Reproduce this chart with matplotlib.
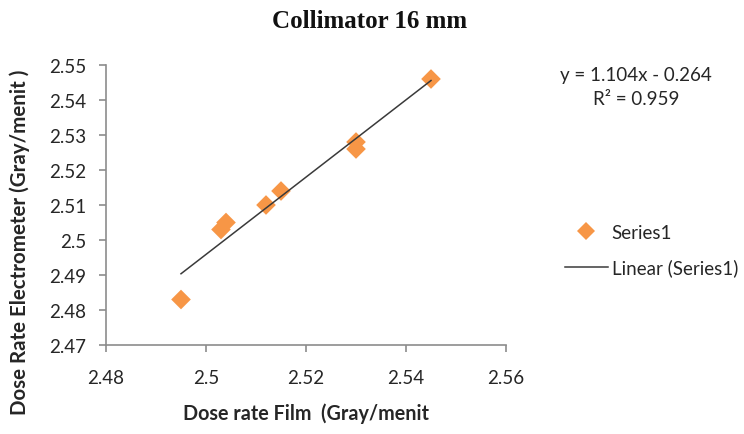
import numpy as np
import matplotlib
matplotlib.use("Agg")
import matplotlib.pyplot as plt
from matplotlib.lines import Line2D

# data
film = [2.495, 2.503, 2.504, 2.512, 2.515, 2.530, 2.530, 2.545]
electrometer = [2.483, 2.503, 2.505, 2.510, 2.514, 2.528, 2.526, 2.546]
x_ticks = [2.48, 2.50, 2.52, 2.54, 2.56]
x_tick_labels = ["2.48", "2.5", "2.52", "2.54", "2.56"]
y_ticks = [2.47, 2.48, 2.49, 2.50, 2.51, 2.52, 2.53, 2.54, 2.55]
y_tick_labels = ["2.47", "2.48", "2.49", "2.5", "2.51", "2.52", "2.53", "2.54", "2.55"]
equation = "y = 1.104x - 0.264"
r_squared = "R² = 0.959"

ORANGE = "#F79646"
TEXT = "#262626"
SPINE = "#8C8C8C"
FONT = "Lato"
FS = 13.5

fig = plt.figure(figsize=(7.44, 4.35), dpi=100)
ax = fig.add_axes([106 / 744, 1 - 346 / 435, 400 / 744, 280 / 435])

ax.scatter(film, electrometer, marker="D", s=100, color=ORANGE, edgecolors="none", zorder=2)

# linear trendline over the data range
slope, intercept = np.polyfit(film, electrometer, 1)
xs = np.array([min(film), max(film)])
ax.plot(xs, slope * xs + intercept, color="#3A3A3A", lw=1.1, zorder=3)

ax.set_xlim(2.48, 2.56)
ax.set_ylim(2.47, 2.55)
ax.set_xticks(x_ticks)
ax.set_xticklabels(x_tick_labels)
ax.set_yticks(y_ticks)
ax.set_yticklabels(y_tick_labels)

for side in ("top", "right"):
    ax.spines[side].set_visible(False)
for side in ("left", "bottom"):
    ax.spines[side].set_color(SPINE)
    ax.spines[side].set_linewidth(1.2)
ax.tick_params(axis="both", direction="out", length=5, width=1.2, color=SPINE,
               labelsize=FS, labelcolor=TEXT)
ax.tick_params(axis="x", pad=12)
ax.tick_params(axis="y", pad=9)
for lab in ax.get_xticklabels() + ax.get_yticklabels():
    lab.set_family(FONT)

ax.set_xlabel("Dose rate Film  (Gray/menit", fontsize=14.2, fontweight="bold",
              family=FONT, color=TEXT, labelpad=12)
ax.set_ylabel("Dose Rate Electrometer (Gray/menit )", fontsize=14.8, fontweight="bold",
              family=FONT, color=TEXT, labelpad=9)
ax.yaxis.set_label_coords(-0.19, 0.37)

fig.text(370 / 744, 1 - 22 / 435, "Collimator 16 mm", ha="center", va="center",
         fontsize=18, fontweight="bold", family="Liberation Serif", color="#111111")

fig.text(636 / 744, 1 - 76 / 435, equation, ha="center", va="center",
         fontsize=FS, family=FONT, color=TEXT)
fig.text(636 / 744, 1 - 100 / 435, r_squared, ha="center", va="center",
         fontsize=FS, family=FONT, color=TEXT)

handles = [
    Line2D([], [], marker="D", ls="none", color=ORANGE, markersize=9, markeredgewidth=0),
    Line2D([], [], color="#3A3A3A", lw=1.1),
]
fig.legend(handles, ["Series1", "Linear (Series1)"], loc="center left",
           bbox_to_anchor=(548 / 744, 1 - 251 / 435), frameon=False,
           prop={"family": FONT, "size": FS}, labelcolor=TEXT,
           handlelength=2.3, handletextpad=0.2, labelspacing=0.95)

fig.savefig("out.png", dpi=100, facecolor="white")
